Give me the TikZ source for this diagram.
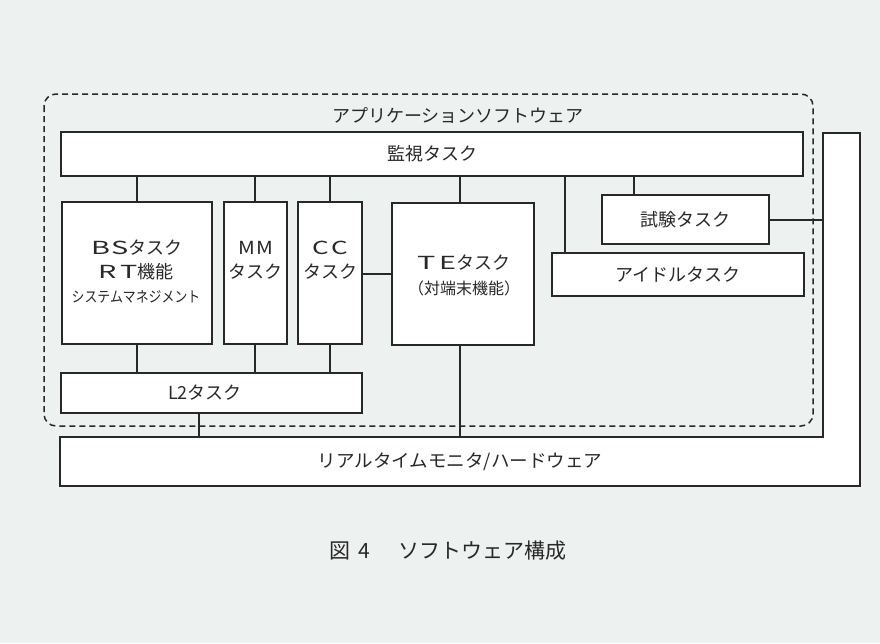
\documentclass[tikz,border=0pt]{standalone}
\usepackage{fontspec}
\setmainfont{Noto Sans CJK JP}
\usetikzlibrary{calc}
\definecolor{bg}{RGB}{237,241,239}
\definecolor{ink}{RGB}{40,40,40}
\newcommand\widen[2]{\scalebox{#1}[1]{#2}}
\begin{document}
\begin{tikzpicture}[x=1pt,y=-1pt,
  box/.style={draw=ink, fill=white, line width=1.8pt, inner sep=0pt},
  link/.style={draw=ink, line width=1.8pt},
  lbl/.style={text=ink, inner sep=0pt, font=\fontsize{18}{24}\selectfont},
  small/.style={text=ink, inner sep=0pt, font=\fontsize{15}{20}\selectfont},
  group/.style={draw=ink, line width=1.5pt, dash pattern=on 6pt off 4pt, rounded corners=12pt}]
\fill[bg] (0,0) rectangle (880,643);
\useasboundingbox (0,0) rectangle (880,643);

% application software group (dashed)
\draw[group] (44,94) rectangle (813,426);
\node[lbl] (app) at (458,116) {アプリケーションソフトウェア};

% hardware L-shape
\draw[link, fill=white] (60,437) -- (823,437) -- (823,133) -- (860,133) -- (860,486) -- (60,486) -- cycle;
\node[minimum width=800pt, minimum height=49pt, inner sep=0pt] (hw) at (460,461.5) {};
\node[lbl] (hwt) at (460,461.5) {\widen{1.03}{リアルタイムモニタ/ハードウェア}};
\coordinate (arm) at (823,220);

% boxes
\node[box, minimum width=742pt, minimum height=44pt] (kan) at (432,154) {};
\node[lbl] (kant) at (kan) {監視タスク};

\node[box, minimum width=150pt, minimum height=142pt] (bs) at (137,273) {};
\node[lbl] (bs1) at (137,248) {\widen{1.6}{B}\hspace{1pt}\widen{1.6}{S}タスク};
\node[lbl] (bs2) at (136,272) {\widen{1.6}{R}\hspace{4pt}\widen{1.6}{T}機能};
\node[small] (bs3) at (136,297) {\widen{0.86}{システムマネジメント}};

\node[box, minimum width=63pt, minimum height=142pt] (mm) at (255.5,273) {};
\node[lbl] (mm1) at (255.5,248) {\widen{1.15}{M}\hspace{1pt}\widen{1.15}{M}};
\node[lbl] (mm2) at (255.5,272) {タスク};

\node[box, minimum width=64pt, minimum height=142pt] (cc) at (330,273) {};
\node[lbl] (cc1) at (330,248) {\widen{1.45}{C}\hspace{2pt}\widen{1.45}{C}};
\node[lbl] (cc2) at (330,272) {タスク};

\node[box, minimum width=142pt, minimum height=142pt] (te) at (463,274) {};
\node[lbl] (te1) at (464,263) {\widen{1.7}{T}\hspace{4pt}\widen{1.6}{E}タスク};
\node[lbl, font=\fontsize{16}{20}\selectfont] (te2) at (464,288) {（対端末機能）};

\node[box, minimum width=167pt, minimum height=49pt] (test) at (685.5,219.5) {};
\node[lbl] (testt) at (685.5,219.5) {試験タスク};

\node[box, minimum width=252pt, minimum height=43pt] (idle) at (678,274.5) {};
\node[lbl] (idlet) at (678,274.5) {アイドルタスク};

\node[box, minimum width=301pt, minimum height=40pt] (l2) at (211.5,393) {};
\node[lbl] (l2t) at (205,393) {L2タスク};

% connectors
\draw[link] (bs.north) -- (bs.north |- kan.south);
\draw[link] ([xshift=-0.5pt]mm.north) -- ([xshift=-0.5pt]mm.north |- kan.south);
\draw[link] (cc.north) -- (cc.north |- kan.south);
\draw[link] ([xshift=-3pt]te.north) -- ([xshift=-3pt]te.north |- kan.south);
\draw[link] ([xshift=14pt]idle.north west) -- ([xshift=14pt]idle.north west |- kan.south);
\draw[link] ([xshift=33pt]test.north west) -- ([xshift=33pt]test.north west |- kan.south);
\draw[link] (te.west) -- (te.west -| cc.east);
\draw[link] ([yshift=-0.5pt]test.east) -- ([yshift=-0.5pt]test.east -| arm);
\draw[link] (bs.south) -- (bs.south |- l2.north);
\draw[link] ([xshift=-0.5pt]mm.south) -- ([xshift=-0.5pt]mm.south |- l2.north);
\draw[link] (cc.south) -- (cc.south |- l2.north);
\draw[link] ([xshift=-12.5pt]l2.south) -- ([xshift=-12.5pt]l2.south |- hw.north);
\draw[link] ([xshift=-3pt]te.south) -- ([xshift=-3pt]te.south |- hw.north);

% caption
\node[text=ink, inner sep=0pt, font=\fontsize{21}{24}\selectfont] (cap) at (448,551) {図\hspace{8pt}4\hspace{28pt}ソフトウェア構成};
\end{tikzpicture}
\end{document}
